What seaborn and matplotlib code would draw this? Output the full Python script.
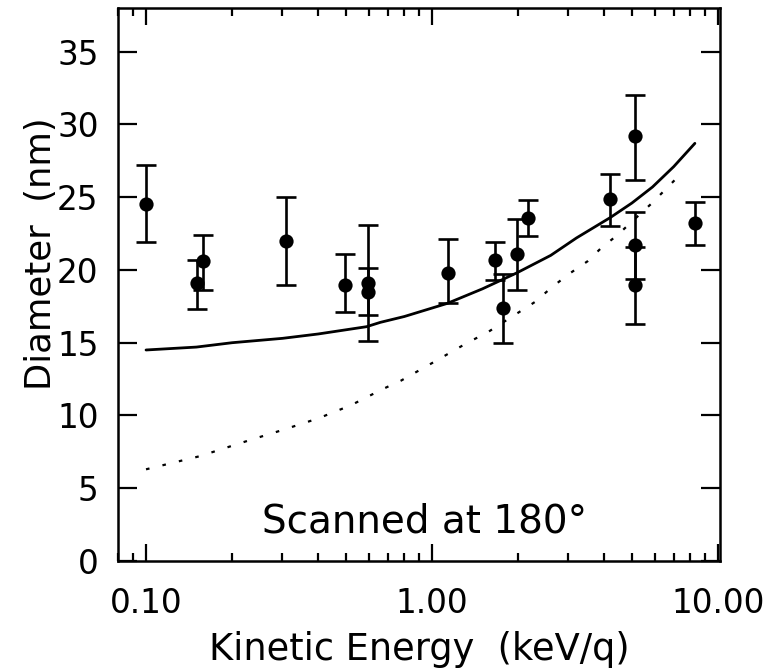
import numpy as np
import pandas as pd
import matplotlib
matplotlib.use("Agg")
import matplotlib.pyplot as plt
from matplotlib.ticker import FixedLocator, FuncFormatter, NullFormatter, LogLocator
import seaborn as sns

# Measured crater diameters (nm) versus ion kinetic energy (keV/q)
energy = [0.100, 0.151, 0.158, 0.309, 0.497, 0.597, 0.597, 1.14, 1.66,
          1.77, 1.98, 2.17, 4.19, 5.13, 5.13, 5.13, 8.32]
diameter = [24.5, 19.1, 20.6, 22.0, 19.0, 19.1, 18.5, 19.8, 20.7,
            17.4, 21.1, 23.6, 24.9, 29.2, 21.7, 19.0, 23.2]
err_low = [21.9, 17.3, 18.6, 19.0, 17.1, 15.1, 16.9, 17.7, 19.3,
           15.0, 18.6, 22.3, 23.0, 26.2, 19.4, 16.3, 21.7]
err_high = [27.2, 20.7, 22.4, 25.0, 21.1, 23.1, 20.1, 22.1, 21.9,
            19.7, 23.5, 24.8, 26.6, 32.0, 24.0, 21.6, 24.7]

# Model curve (solid)
model_e = [0.10, 0.15, 0.20, 0.30, 0.40, 0.59, 0.66, 0.80, 1.13, 1.50,
           1.98, 2.60, 3.20, 4.20, 5.00, 5.90, 7.00, 8.30]
model_d = [14.5, 14.7, 15.0, 15.3, 15.6, 16.1, 16.4, 16.8, 17.7, 18.7,
           19.8, 21.0, 22.2, 23.6, 24.6, 25.7, 27.1, 28.7]

# Second model curve (dotted)
dot_e = [0.10, 0.154, 0.23, 0.30, 0.40, 0.52, 0.67, 0.78, 1.00, 1.33,
         1.56, 2.29, 2.62, 3.00, 3.50, 3.90, 4.45, 5.88, 6.60, 7.50]
dot_d = [6.3, 7.2, 8.3, 9.0, 9.8, 10.7, 11.8, 12.4, 13.6, 15.0,
         15.7, 17.8, 18.8, 19.7, 20.6, 21.5, 22.4, 24.6, 25.6, 26.7]

y_ticks = [0, 5, 10, 15, 20, 25, 30, 35]
x_ticks = [0.1, 1.0, 10.0]

sns.set_style("ticks")
plt.rcParams["font.family"] = ["DejaVu Sans"]
plt.rcParams.update({"text.color": "black", "axes.labelcolor": "black",
                     "xtick.color": "black", "ytick.color": "black"})

points = pd.DataFrame({"E": energy, "D": diameter,
                       "lo": err_low, "hi": err_high})
solid = pd.DataFrame({"E": model_e, "D": model_d})
dotted = pd.DataFrame({"E": dot_e, "D": dot_d})

fig = plt.figure(figsize=(7.78, 6.72), dpi=100)
ax = fig.add_axes([118 / 778, 1 - 561 / 672, 602 / 778, 553 / 672])
ax.set_xscale("log")

sns.lineplot(data=solid, x="E", y="D", ax=ax, color="black", lw=2.0,
             sort=False, estimator=None)
sns.lineplot(data=dotted, x="E", y="D", ax=ax, color="black", lw=1.6,
             sort=False, estimator=None, linestyle=(0, (1.6, 6.0)))

ax.errorbar(points["E"], points["D"],
            yerr=[points["D"] - points["lo"], points["hi"] - points["D"]],
            fmt="none", ecolor="black", elinewidth=1.9, capsize=7.5,
            capthick=1.9, zorder=3)
sns.scatterplot(data=points, x="E", y="D", ax=ax, color="black", s=105,
                edgecolor="black", linewidth=0, zorder=4)

ax.set_xlim(0.0798, 10.16)
ax.set_ylim(0, 38)

ax.yaxis.set_major_locator(FixedLocator(y_ticks))
ax.xaxis.set_major_locator(FixedLocator(x_ticks))
ax.xaxis.set_major_formatter(FuncFormatter(lambda v, p: f"{v:.2f}"))
ax.xaxis.set_minor_locator(LogLocator(base=10, subs=np.arange(2, 10)))
ax.xaxis.set_minor_formatter(NullFormatter())

ax.tick_params(axis="both", which="both", direction="in", top=True,
               right=True, width=1.6, color="black")
ax.tick_params(axis="y", which="major", length=14, pad=14, labelsize=23.5)
ax.tick_params(axis="y", which="minor", length=0)
ax.tick_params(axis="x", which="major", length=12, pad=19, labelsize=23.5)
ax.tick_params(axis="x", which="minor", length=6)

for sp in ax.spines.values():
    sp.set_linewidth(1.8)
    sp.set_color("black")

ax.set_xlabel("Kinetic Energy  (keV/q)", fontsize=26.5, labelpad=8)
ax.set_ylabel("Diameter  (nm)", fontsize=25.5)
ax.yaxis.set_label_coords(-0.10, 0.555)

ax.text(0.509, 0.052, "Scanned at 180°", transform=ax.transAxes,
        ha="center", va="baseline", fontsize=28)

fig.savefig("out.png", dpi=100)
